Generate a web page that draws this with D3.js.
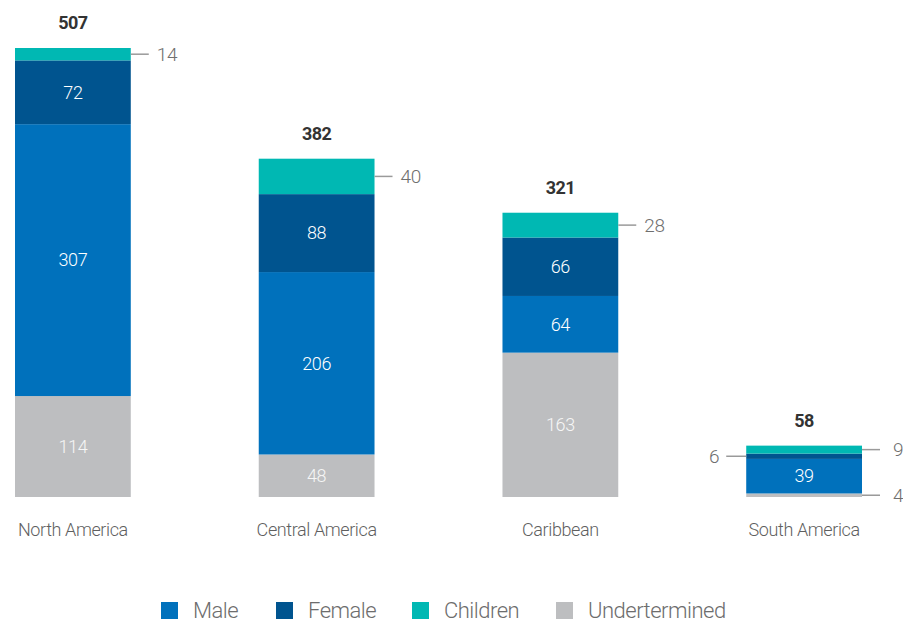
<!DOCTYPE html>
<html>
<head>
<meta charset="utf-8">
<script src="https://cdn.jsdelivr.net/npm/d3@7"></script>
<style>
  html, body { margin: 0; padding: 0; background: #fff; }
  svg text { font-family: Roboto, "Noto Sans", sans-serif; }
</style>
</head>
<body>
<svg id="chart" width="903" height="622"></svg>
<script>
// Regions and the count of each group
const regions = ["North America", "Central America", "Caribbean", "South America"];
const undetermined = [114, 48, 163, 4];
const male = [307, 206, 64, 39];
const female = [72, 88, 66, 6];
const children = [14, 40, 28, 9];
const totals = [507, 382, 321, 58];

const seriesNames = ["Undertermined", "Male", "Female", "Children"];
const seriesColors = { "Male": "#0071bc", "Female": "#00548f", "Children": "#00b8b3", "Undertermined": "#bdbec0" };
const legendOrder = ["Male", "Female", "Children", "Undertermined"];

const rows = regions.map((r, i) => ({
  region: r,
  "Undertermined": undetermined[i],
  "Male": male[i],
  "Female": female[i],
  "Children": children[i],
  total: totals[i]
}));

const svg = d3.select("#chart");

const x = d3.scaleBand().domain(regions).range([15, 862]).paddingInner(0.525).paddingOuter(0);
const y = d3.scaleLinear().domain([0, d3.max(totals)]).range([497, 48]);

const stacked = d3.stack().keys(seriesNames)(rows);

// Segments
const layers = svg.append("g").selectAll("g").data(stacked).join("g")
  .attr("fill", d => seriesColors[d.key]);
layers.selectAll("rect").data(d => d.map(s => ({ s, key: d.key }))).join("rect")
  .attr("x", d => x(d.s.data.region))
  .attr("width", x.bandwidth())
  .attr("y", d => y(d.s[1]))
  .attr("height", d => y(d.s[0]) - y(d.s[1]));

// Segment value labels: children and thin segments get a leader line, the rest sit inside
const inside = [], outside = [];
stacked.forEach(layer => {
  layer.forEach(s => {
    const v = s[1] - s[0];
    const h = y(s[0]) - y(s[1]);
    const item = { key: layer.key, region: s.data.region, v, y0: s[0], y1: s[1], h };
    if (layer.key !== "Children" && h >= 28) inside.push(item); else outside.push(item);
  });
});

svg.append("g").selectAll("text").data(inside).join("text")
  .attr("x", d => x(d.region) + x.bandwidth() / 2)
  .attr("y", d => (y(d.y0) + y(d.y1)) / 2)
  .attr("dy", "0.35em")
  .attr("text-anchor", "middle")
  .attr("fill", d => d.key === "Undertermined" ? "#f6f6f6" : "#ffffff")
  .attr("font-size", 18)
  .attr("font-weight", 300)
  .attr("letter-spacing", -0.4)
  .text(d => d.v);

// Leader placement: Female in South America goes to the left side
const leaderSide = d => (d.region === "South America" && d.key === "Female") ? "left" : "right";
const leaderY = d => (y(d.y0) + y(d.y1)) / 2;
const labelGap = d => d.region === "South America" ? 13 : 8;

const lead = svg.append("g").selectAll("g").data(outside).join("g");
lead.append("line")
  .attr("x1", d => leaderSide(d) === "right" ? x(d.region) + x.bandwidth() : x(d.region))
  .attr("x2", d => leaderSide(d) === "right" ? x(d.region) + x.bandwidth() + 18 : x(d.region) - 20)
  .attr("y1", leaderY)
  .attr("y2", leaderY)
  .attr("stroke", "#9a9a9a")
  .attr("stroke-width", 1.5);
lead.append("text")
  .attr("x", d => leaderSide(d) === "right" ? x(d.region) + x.bandwidth() + 18 + labelGap(d) : x(d.region) - 27)
  .attr("y", leaderY)
  .attr("dy", "0.35em")
  .attr("text-anchor", d => leaderSide(d) === "right" ? "start" : "end")
  .attr("fill", "#6f6f6f")
  .attr("font-size", 19)
  .attr("font-weight", 300)
  .attr("letter-spacing", -0.4)
  .text(d => d.v);

// Totals above bars
svg.append("g").selectAll("text").data(rows).join("text")
  .attr("x", d => x(d.region) + x.bandwidth() / 2)
  .attr("y", d => y(d.total) - 19)
  .attr("text-anchor", "middle")
  .attr("fill", "#333")
  .attr("font-size", 18)
  .attr("font-weight", 700)
  .attr("letter-spacing", -0.5)
  .text(d => d.total);

// Category axis labels
const xAxis = svg.append("g").attr("transform", "translate(0,497)")
  .call(d3.axisBottom(x).tickSize(0).tickPadding(0));
xAxis.select(".domain").remove();
xAxis.selectAll("text")
  .attr("y", 39)
  .attr("dy", 0)
  .attr("fill", "#5f5f5f")
  .attr("font-size", 18)
  .attr("font-weight", 300)
  .attr("letter-spacing", -0.4)
  .style("font-family", "Roboto, sans-serif");

// Legend
const legendX = [161, 276, 412, 556];
const legend = svg.append("g").selectAll("g").data(legendOrder).join("g")
  .attr("transform", (d, i) => `translate(${legendX[i]},602)`);
legend.append("rect").attr("width", 17).attr("height", 17).attr("fill", d => seriesColors[d]);
legend.append("text")
  .attr("x", 32).attr("y", 16)
  .attr("fill", "#6d6d6d")
  .attr("font-size", 22)
  .attr("font-weight", 300)
  .attr("letter-spacing", -0.5)
  .text(d => d);
</script>
</body>
</html>
